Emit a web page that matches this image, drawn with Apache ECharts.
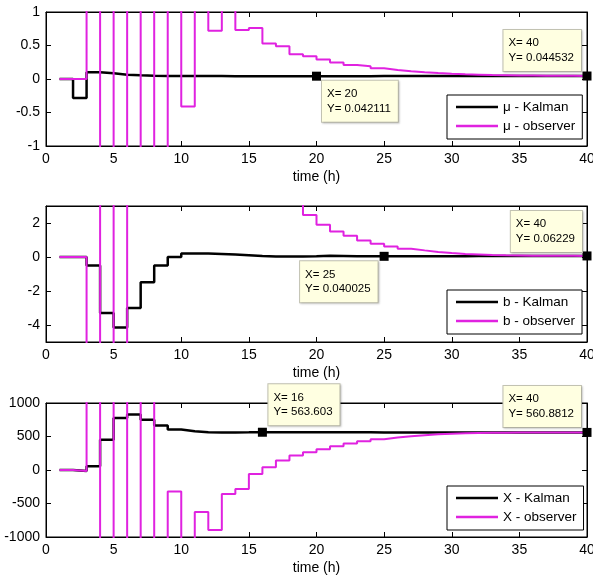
<!DOCTYPE html>
<html>
<head>
<meta charset="utf-8">
<script src="https://cdn.jsdelivr.net/npm/echarts@6/dist/echarts.min.js"></script>
<style>
    html, body { margin: 0; padding: 0; background: #fff; }
    #chart { width: 593px; height: 579px; }
</style>
</head>
<body>
<div id="chart"></div>
<script>
    // time steps (h)
    var hours = [1, 2, 3, 4, 5, 6, 7, 8, 9, 10, 11, 12, 13, 14, 15, 16, 17, 18, 19, 20,
        21, 22, 23, 24, 25, 26, 27, 28, 29, 30, 31, 32, 33, 34, 35, 36, 37, 38, 39, 40]

    // mu
    var muKalman = [0, -0.285, 0.10, 0.085, 0.065, 0.055, 0.05, 0.046, 0.045, 0.044,
        0.043, 0.043, 0.042, 0.042, 0.042, 0.042, 0.042, 0.042, 0.042, 0.042111,
        0.0422, 0.0425, 0.0428, 0.043, 0.0432, 0.0434, 0.0436, 0.0438, 0.044, 0.0441,
        0.0442, 0.0443, 0.0443, 0.0444, 0.0444, 0.0445, 0.0445, 0.0445, 0.0445, 0.044532]
    var muObserver = [0, 0, 4.5, -5.2, 5.8, -6.1, 5.4, -4.8, 3.9, -0.41,
        2.6, 0.72, 1.6, 0.73, 0.76, 0.53, 0.49, 0.37, 0.34, 0.29,
        0.245, 0.21, 0.19, 0.16, 0.135, 0.115, 0.10, 0.088, 0.078, 0.07,
        0.065, 0.06, 0.057, 0.054, 0.052, 0.05, 0.048, 0.047, 0.046, 0.045]

    // b
    var bKalman = [0, 0, -0.5, -3.3, -4.15, -3.0, -1.48, -0.5, 0.0, 0.2,
        0.21, 0.18, 0.14, 0.1, 0.06, 0.03, 0.03, 0.03, 0.04, 0.07,
        0.06, 0.04, 0.04, 0.04, 0.040025, 0.042, 0.044, 0.046, 0.048, 0.05,
        0.052, 0.054, 0.055, 0.057, 0.058, 0.059, 0.06, 0.061, 0.062, 0.06229]
    var bObserver = [0, 0, -9, 8, -10, 14, 12.5, 11, 10, 9,
        8, 7.2, 6.4, 5.7, 5.1, 4.5, 4.0, 3.6, 2.47, 1.89,
        1.5, 1.25, 0.97, 0.78, 0.62, 0.49, 0.39, 0.3, 0.23, 0.18,
        0.15, 0.12, 0.1, 0.09, 0.08, 0.075, 0.07, 0.067, 0.065, 0.063]

    // X
    var xKalman = [0, -15, 55, 450, 775, 830, 750, 665, 605, 580,
        565, 560, 560, 562, 565, 563.603, 562, 562, 562, 562,
        562, 561.8, 561.6, 561.5, 561.4, 561.3, 561.2, 561.1, 561, 561,
        561, 561, 560.95, 560.95, 560.9, 560.9, 560.9, 560.9, 560.9, 560.8812]
    var xObserver = [0, -15, 2500, -3000, 3500, -3800, 3200, -2900, -320, -1800,
        -625, -895, -360, -285, -60, 40, 140, 215, 265, 310,
        355, 395, 430, 460, 485, 505, 520, 532, 542, 548,
        552, 555, 557, 558, 559, 559.5, 560, 560.3, 560.6, 560.88]

    var font = '"Liberation Sans", Arial, sans-serif'
    var magenta = '#e022e0'

    // grid border gives the matlab box; outerBoundsMode none keeps the rects as given
    var grids = [
        { left: 46, right: 6, top: 12, height: 134 },
        { left: 46, right: 6, top: 206, height: 136 },
        { left: 46, right: 6, top: 403, height: 134 }
    ].map(function (g) {
        g.show = true
        g.borderColor = '#000'
        g.borderWidth = 1
        g.outerBoundsMode = 'none'
        return g
    })
    var yRanges = [
        { min: -1, max: 1, ticks: [-1, -0.5, 0, 0.5, 1] },
        { min: -5, max: 3, ticks: [-4, -2, 0, 2] },
        { min: -1000, max: 1000, ticks: [-1000, -500, 0, 500, 1000] }
    ]

    var xAxes = []
    var yAxes = []
    grids.forEach(function (g, i) {
        // bottom + top (box like matlab)
        ['bottom', 'top'].forEach(function (pos) {
            xAxes.push({
                type: 'value',
                gridIndex: i,
                position: pos,
                min: 0,
                max: 40,
                interval: 5,
                axisLine: { show: true, onZero: false, lineStyle: { color: '#000', width: 1 } },
                axisTick: { show: true, inside: true, length: 5, lineStyle: { color: '#000' } },
                axisLabel: {
                    show: pos === 'bottom',
                    color: '#000',
                    fontSize: 14,
                    fontFamily: font,
                    margin: 6
                },
                splitLine: { show: false },
                name: pos === 'bottom' ? 'time (h)' : '',
                nameLocation: 'middle',
                nameGap: 24,
                nameTextStyle: { color: '#000', fontSize: 14, fontFamily: font }
            })
        })
        var r = yRanges[i]
        ;['left', 'right'].forEach(function (pos) {
            yAxes.push({
                type: 'value',
                gridIndex: i,
                position: pos,
                min: r.min,
                max: r.max,
                axisLine: { show: true, onZero: false, lineStyle: { color: '#000', width: 1 } },
                axisTick: { show: true, inside: true, length: 5, customValues: r.ticks, lineStyle: { color: '#000' } },
                axisLabel: {
                    show: pos === 'left',
                    customValues: r.ticks,
                    color: '#000',
                    fontSize: 14,
                    fontFamily: font,
                    margin: 6,
                    formatter: function (v) { return String(v) }
                },
                splitLine: { show: false }
            })
        })
    })

    function pairs (values) {
        return hours.map(function (h, k) { return [h, values[k]] })
    }

    // data tip (matlab datacursor) on a kalman curve
    function tip (values, hour, pos, align, vAlign) {
        var y = values[hours.indexOf(hour)]
        return {
            coord: [hour, y],
            label: {
                formatter: '{t|X= ' + hour + '}\n{t|Y= ' + y + '}',
                position: pos,
                align: align,
                verticalAlign: vAlign
            }
        }
    }

    function kalman (name, values, i, tips) {
        return {
            name: name,
            type: 'line',
            xAxisIndex: 2 * i,
            yAxisIndex: 2 * i,
            step: 'end',
            showSymbol: false,
            symbol: 'none',
            itemStyle: { color: '#000' },
            lineStyle: { color: '#000', width: 2.5 },
            data: pairs(values),
            markPoint: {
                symbol: 'rect',
                symbolSize: 9,
                itemStyle: { color: '#000' },
                label: {
                    show: true,
                    color: '#000',
                    fontSize: 11.5,
                    fontFamily: font,
                    lineHeight: 14.5,
                    backgroundColor: '#ffffe1',
                    borderColor: '#c4c4b4',
                    borderWidth: 1,
                    padding: [6, 7, 6, 5],
                    shadowColor: 'rgba(0,0,0,0.15)',
                    shadowOffsetX: 1,
                    shadowOffsetY: 1,
                    shadowBlur: 2,
                    rich: {
                        t: { align: 'left', color: '#000', fontSize: 11.5, fontFamily: font, lineHeight: 14.5 }
                    }
                },
                data: tips
            }
        }
    }

    function observer (name, values, i) {
        return {
            name: name,
            type: 'line',
            xAxisIndex: 2 * i,
            yAxisIndex: 2 * i,
            step: 'end',
            showSymbol: false,
            symbol: 'none',
            itemStyle: { color: magenta },
            lineStyle: { color: magenta, width: 2 },
            data: pairs(values)
        }
    }

    var legendTops = [95, 290, 486]
    var legendNames = [
        ['μ - Kalman', 'μ - observer'],
        ['b - Kalman', 'b - observer'],
        ['X - Kalman', 'X - observer']
    ]
    var legends = legendNames.map(function (names, i) {
        return {
            data: names,
            left: 447,
            top: legendTops[i],
            orient: 'vertical',
            icon: 'rect',
            itemWidth: 42,
            itemHeight: 2.5,
            itemGap: 5,
            padding: [5, 7, 6, 9],
            backgroundColor: '#fff',
            borderColor: '#000',
            borderWidth: 1,
            borderRadius: 0,
            selectedMode: false,
            textStyle: { color: '#000', fontSize: 13.5, fontFamily: font }
        }
    })

    var option = {
        animation: false,
        backgroundColor: '#fff',
        grid: grids,
        xAxis: xAxes,
        yAxis: yAxes,
        legend: legends,
        series: [
            kalman('μ - Kalman', muKalman, 0, [
                tip(muKalman, 20, [10, 9], 'left', 'top'),
                tip(muKalman, 40, [-1.5, -0.5], 'right', 'bottom')
            ]),
            observer('μ - observer', muObserver, 0),
            kalman('b - Kalman', bKalman, 1, [
                tip(bKalman, 25, [-2, 9.5], 'right', 'top'),
                tip(bKalman, 40, [-0.5, 0.5], 'right', 'bottom')
            ]),
            observer('b - observer', bObserver, 1),
            kalman('X - Kalman', xKalman, 2, [
                tip(xKalman, 16, [10.5, -2.5], 'left', 'bottom'),
                tip(xKalman, 40, [-1.5, -1], 'right', 'bottom')
            ]),
            observer('X - observer', xObserver, 2)
        ]
    }

    var chart = echarts.init(document.getElementById('chart'))
    chart.setOption(option)
    window.addEventListener('resize', function () {
        chart.resize()
    })
</script>
</body>
</html>
